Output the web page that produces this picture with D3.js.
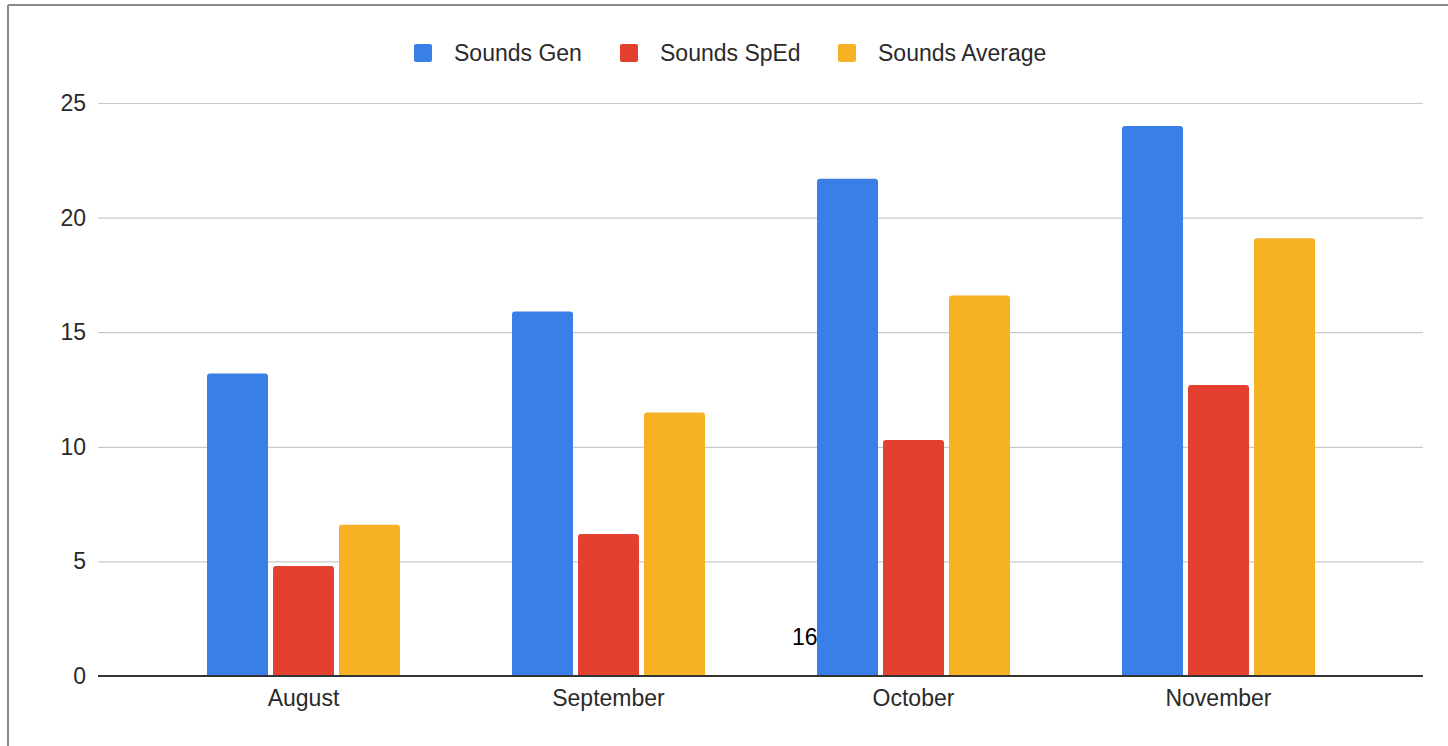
<!DOCTYPE html>
<html>
<head>
<meta charset="utf-8">
<script src="https://cdn.jsdelivr.net/npm/d3@7"></script>
<style>
  html, body { margin: 0; padding: 0; background: #fff; }
  svg { display: block; font-family: "Liberation Sans", Arial, sans-serif; }
</style>
</head>
<body>
<svg id="chart" width="1448" height="746"></svg>
<script>
  // data
  var months = ['August', 'September', 'October', 'November'];
  var seriesNames = ['Sounds Gen', 'Sounds SpEd', 'Sounds Average'];
  var soundsGen = [13.2, 15.9, 21.7, 24.0];
  var soundsSped = [4.8, 6.2, 10.3, 12.7];
  var soundsAvg = [6.6, 11.5, 16.6, 19.1];
  var yTicks = [0, 5, 10, 15, 20, 25];
  var colors = ['#3a7ee8', '#e3402f', '#f7b125'];

  var svg = d3.select('#chart');

  // frame round the picture (top and left edges)
  svg.append('line').attr('x1', 8).attr('x2', 1448).attr('y1', 5).attr('y2', 5)
    .attr('stroke', '#8a8a8a').attr('stroke-width', 2);
  svg.append('line').attr('x1', 8).attr('x2', 8).attr('y1', 5).attr('y2', 746)
    .attr('stroke', '#8a8a8a').attr('stroke-width', 2);

  var plotLeft = 98, plotRight = 1423;
  var groupWidth = 193;

  var y = d3.scaleLinear().domain([0, 25]).range([676, 103]);
  var x0 = d3.scaleBand().domain(months).range([151, 1371]);
  var x1 = d3.scaleBand().domain(seriesNames).range([0, groupWidth]).paddingInner(0.076);

  // gridlines
  svg.append('g').selectAll('line')
    .data(yTicks.filter(function(t) { return t > 0; }))
    .enter().append('line')
    .attr('x1', plotLeft).attr('x2', plotRight)
    .attr('y1', function(d) { return y(d) + 0.5; })
    .attr('y2', function(d) { return y(d) + 0.5; })
    .attr('stroke', '#c9c9c9').attr('stroke-width', 1.2);

  // y tick labels
  svg.append('g').selectAll('text')
    .data(yTicks)
    .enter().append('text')
    .attr('x', 86)
    .attr('y', function(d) { return y(d); })
    .attr('dy', '0.35em')
    .attr('text-anchor', 'end')
    .style('font-size', '23px')
    .style('fill', '#2a2a2a')
    .text(function(d) { return d; });

  // bars
  var table = months.map(function(m, i) {
    return { month: m, values: [soundsGen[i], soundsSped[i], soundsAvg[i]] };
  });
  var groups = svg.append('g').selectAll('g')
    .data(table)
    .enter().append('g')
    .attr('transform', function(d) {
      return 'translate(' + (x0(d.month) + x0.bandwidth() / 2 - groupWidth / 2) + ',0)';
    });
  groups.selectAll('path')
    .data(function(d) {
      return d.values.map(function(v, k) { return { name: seriesNames[k], value: v, k: k }; });
    })
    .enter().append('path')
    .attr('fill', function(d) { return colors[d.k]; })
    .attr('d', function(d) {
      var bx = x1(d.name), bw = x1.bandwidth();
      var top = y(d.value), bottom = y(0), r = 3;
      return 'M' + bx + ',' + bottom +
        'V' + (top + r) +
        'Q' + bx + ',' + top + ' ' + (bx + r) + ',' + top +
        'H' + (bx + bw - r) +
        'Q' + (bx + bw) + ',' + top + ' ' + (bx + bw) + ',' + (top + r) +
        'V' + bottom + 'Z';
    });

  // baseline
  svg.append('line')
    .attr('x1', plotLeft).attr('x2', plotRight)
    .attr('y1', y(0)).attr('y2', y(0))
    .attr('stroke', '#333').attr('stroke-width', 2);

  // x labels
  svg.append('g').selectAll('text')
    .data(months)
    .enter().append('text')
    .attr('x', function(d) { return x0(d) + x0.bandwidth() / 2; })
    .attr('y', 706)
    .attr('text-anchor', 'middle')
    .style('font-size', '23px')
    .style('fill', '#2a2a2a')
    .text(function(d) { return d; });

  // legend
  var legendX = [414, 620, 838];
  var legend = svg.append('g').selectAll('g')
    .data(seriesNames)
    .enter().append('g')
    .attr('transform', function(d, i) { return 'translate(' + legendX[i] + ',44)'; });
  legend.append('rect')
    .attr('width', 18).attr('height', 18).attr('rx', 2)
    .attr('fill', function(d, i) { return colors[i]; });
  legend.append('text')
    .attr('x', 40).attr('y', 9).attr('dy', '0.35em')
    .style('font-size', '23px')
    .style('fill', '#2a2a2a')
    .text(function(d) { return d; });

  // stray page number on the picture
  svg.append('text')
    .attr('x', 792).attr('y', 645)
    .style('font-size', '23px')
    .style('fill', '#000')
    .text('16');
</script>
</body>
</html>
